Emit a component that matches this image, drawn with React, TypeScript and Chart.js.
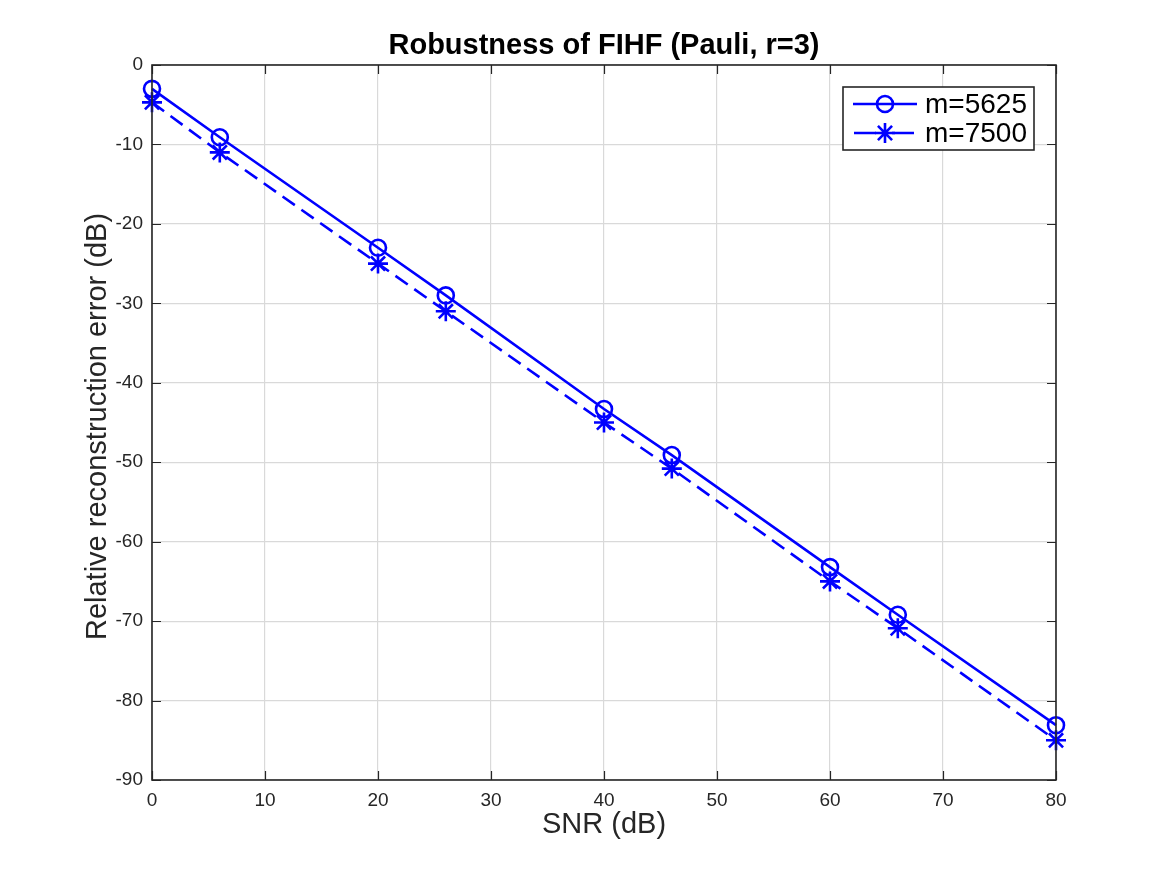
import React, { useEffect, useRef } from "react";
import { Chart, registerables } from "chart.js";

Chart.register(...registerables);

// SNR values (dB) at which reconstruction was evaluated
const snr = [0, 6, 20, 26, 40, 46, 60, 66, 80];
// Relative reconstruction error (dB) for each number of measurements
const errM5625 = [-3.0, -9.1, -23.0, -29.0, -43.3, -49.1, -63.2, -69.2, -83.1];
const errM7500 = [-4.7, -11.0, -25.0, -31.0, -45.0, -50.8, -65.0, -70.9, -85.0];

const seriesLabels = ["m=5625", "m=7500"];
const xTicks = [0, 10, 20, 30, 40, 50, 60, 70, 80];
const yTicks = [0, -10, -20, -30, -40, -50, -60, -70, -80, -90];

const titleText = "Robustness of FIHF (Pauli, r=3)";
const xLabel = "SNR (dB)";
const yLabel = "Relative reconstruction error (dB)";

const FONT = "'Liberation Sans', Helvetica, Arial, sans-serif";
const AXIS_COLOR = "#262626";
const BLUE = "#0000ff";
const DASH = [15, 8];
const LINE_W = 2.6;

// Draws the axes box, inward ticks, titles and legend in MATLAB style
const decorations = {
  id: "decorations",
  afterDraw(chart: any) {
    const { ctx, chartArea } = chart;
    const { left, right, top, bottom } = chartArea;
    const xs = chart.scales.x;
    const ys = chart.scales.y;
    ctx.save();

    // inward tick marks on all four sides
    ctx.strokeStyle = AXIS_COLOR;
    ctx.lineWidth = 1.2;
    const tl = 9;
    ctx.beginPath();
    xTicks.forEach((v) => {
      const px = Math.round(xs.getPixelForValue(v)) + 0.5;
      ctx.moveTo(px, bottom);
      ctx.lineTo(px, bottom - tl);
      ctx.moveTo(px, top);
      ctx.lineTo(px, top + tl);
    });
    yTicks.forEach((v) => {
      const py = Math.round(ys.getPixelForValue(v)) + 0.5;
      ctx.moveTo(left, py);
      ctx.lineTo(left + tl, py);
      ctx.moveTo(right, py);
      ctx.lineTo(right - tl, py);
    });
    ctx.stroke();

    // axes box
    ctx.lineWidth = 1.6;
    ctx.strokeRect(Math.round(left), Math.round(top), Math.round(right - left), Math.round(bottom - top));

    // title
    ctx.fillStyle = "#000000";
    ctx.font = `bold 29px ${FONT}`;
    ctx.textAlign = "center";
    ctx.textBaseline = "alphabetic";
    ctx.fillText(titleText, (left + right) / 2, 54);

    // axis labels
    ctx.fillStyle = AXIS_COLOR;
    ctx.font = `29px ${FONT}`;
    ctx.fillText(xLabel, (left + right) / 2, 833);
    ctx.save();
    ctx.translate(106, (top + bottom) / 2 + 4);
    ctx.rotate(-Math.PI / 2);
    ctx.fillText(yLabel, 0, 0);
    ctx.restore();

    // legend
    const bx = 843, by = 87, bw = 191, bh = 63;
    ctx.fillStyle = "#ffffff";
    ctx.fillRect(bx, by, bw, bh);
    ctx.strokeStyle = AXIS_COLOR;
    ctx.lineWidth = 1.6;
    ctx.strokeRect(bx, by, bw, bh);

    const rows = [104, 133];
    ctx.strokeStyle = BLUE;
    ctx.lineWidth = LINE_W;
    // solid line with circle
    ctx.beginPath();
    ctx.moveTo(853, rows[0]);
    ctx.lineTo(917, rows[0]);
    ctx.stroke();
    ctx.beginPath();
    ctx.arc(885, rows[0], 8, 0, Math.PI * 2);
    ctx.stroke();
    // dashed line with star
    ctx.setLineDash([22, 16]);
    ctx.beginPath();
    ctx.moveTo(854, rows[1]);
    ctx.lineTo(917, rows[1]);
    ctx.stroke();
    ctx.setLineDash([]);
    const r = 10;
    ctx.beginPath();
    for (let k = 0; k < 4; k++) {
      const a = (k * Math.PI) / 4;
      ctx.moveTo(885 - r * Math.cos(a), rows[1] - r * Math.sin(a));
      ctx.lineTo(885 + r * Math.cos(a), rows[1] + r * Math.sin(a));
    }
    ctx.stroke();

    ctx.fillStyle = "#000000";
    ctx.font = `28px ${FONT}`;
    ctx.textAlign = "left";
    ctx.textBaseline = "middle";
    ctx.fillText(seriesLabels[0], 925, rows[0] + 1);
    ctx.fillText(seriesLabels[1], 925, rows[1] + 1);

    ctx.restore();
  },
};

export default function App() {
  const canvasRef = useRef<HTMLCanvasElement | null>(null);

  useEffect(() => {
    document.body.style.margin = "0";
    const canvas = canvasRef.current;
    if (!canvas) return;

    const chart = new Chart(canvas, {
      type: "line",
      data: {
        datasets: [
          {
            label: seriesLabels[0],
            data: snr.map((x, i) => ({ x, y: errM5625[i] })),
            borderColor: BLUE,
            backgroundColor: "transparent",
            borderWidth: LINE_W,
            pointStyle: "circle",
            pointRadius: 8,
            pointBorderWidth: LINE_W,
            pointBorderColor: BLUE,
            pointBackgroundColor: "transparent",
            tension: 0,
            clip: false as any,
          },
          {
            label: seriesLabels[1],
            data: snr.map((x, i) => ({ x, y: errM7500[i] })),
            borderColor: BLUE,
            backgroundColor: "transparent",
            borderWidth: LINE_W,
            borderDash: DASH,
            pointStyle: "star",
            pointRadius: 10,
            pointBorderWidth: LINE_W,
            pointBorderColor: BLUE,
            pointBackgroundColor: "transparent",
            tension: 0,
            clip: false as any,
          },
        ],
      },
      options: {
        responsive: false,
        animation: false,
        devicePixelRatio: 1,
        layout: { padding: { left: 0, top: 65, right: 111, bottom: 0 } },
        plugins: {
          legend: { display: false },
          title: { display: false },
          tooltip: { enabled: false },
        },
        scales: {
          x: {
            type: "linear",
            min: 0,
            max: 80,
            afterFit: (s: any) => {
              s.height = 95;
            },
            afterBuildTicks: (s: any) => {
              s.ticks = xTicks.map((v) => ({ value: v }));
            },
            ticks: {
              color: AXIS_COLOR,
              font: { family: FONT, size: 19 },
              padding: 9,
              maxRotation: 0,
              autoSkip: false,
            },
            grid: { color: "#d9d9d9", lineWidth: 1.2, drawTicks: false },
            border: { display: false },
          },
          y: {
            type: "linear",
            min: -90,
            max: 0,
            afterFit: (s: any) => {
              s.width = 152;
            },
            afterBuildTicks: (s: any) => {
              s.ticks = yTicks.map((v) => ({ value: v }));
            },
            ticks: {
              color: AXIS_COLOR,
              font: { family: FONT, size: 19 },
              padding: 9,
              autoSkip: false,
            },
            grid: { color: "#d9d9d9", lineWidth: 1.2, drawTicks: false },
            border: { display: false },
          },
        },
      },
      plugins: [decorations],
    });

    return () => chart.destroy();
  }, []);

  return (
    <div style={{ width: 1167, height: 875, background: "#ffffff" }}>
      <canvas ref={canvasRef} width={1167} height={875} />
    </div>
  );
}
